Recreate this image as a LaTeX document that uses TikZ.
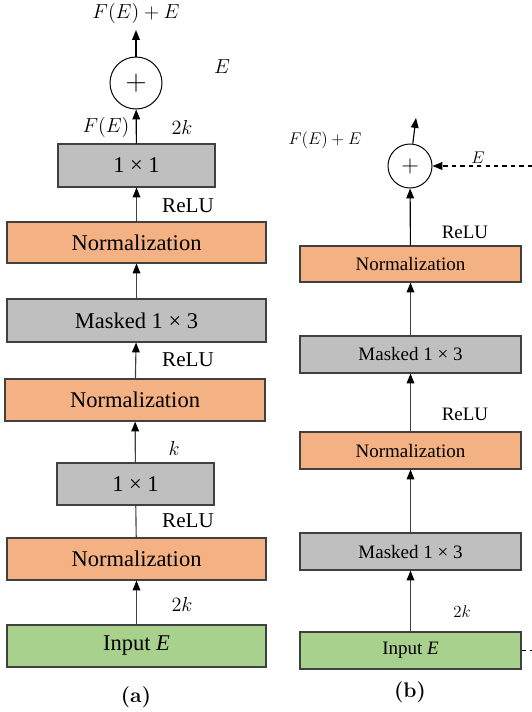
\documentclass[tikz,border=0pt]{standalone}
\usepackage{fontspec}
\newfontfamily\tnr{Liberation Serif}
\usetikzlibrary{arrows.meta}
\definecolor{convgray}{HTML}{BFBFBF}
\definecolor{normorange}{HTML}{F4B183}
\definecolor{inputgreen}{HTML}{A9D18E}
\definecolor{edgegray}{HTML}{404040}
\tikzset{
  bigtxt/.style={font=\tnr\fontsize{16}{19}\selectfont},
  smalltxt/.style={font=\tnr\fontsize{13.5}{16}\selectfont},
  blk/.style={draw=edgegray,line width=0.8pt,inner sep=0pt},
  conv/.style={fill=convgray},
  norm/.style={fill=normorange},
  inp/.style={fill=inputgreen},
  addc/.style={draw,line width=0.7pt,circle,inner sep=0pt},
  flow/.style={-{Triangle[length=7pt,width=5.5pt,black]},edgegray,line width=0.8pt},
  lbl/.style={font=\fontsize{15}{18}\selectfont},
  lblb/.style={font=\fontsize{13}{16}\selectfont}
}
\begin{document}
\begin{tikzpicture}[x=0.025cm,y=-0.025cm]
  \useasboundingbox (0,0) rectangle (532,712);

  % (a) blocks
  \node[addc,minimum size=1.3cm,font=\fontsize{22}{24}\selectfont] (adda) at (136,83) {$+$};
  \node[blk,conv,bigtxt,minimum width=3.925cm,minimum height=1.075cm] (c1a) at (136.5,165.5) {1 × 1};
  \node[blk,norm,bigtxt,minimum width=6.475cm,minimum height=1.025cm] (n1a) at (136.5,242.5) {Normalization};
  \node[blk,conv,bigtxt,minimum width=6.475cm,minimum height=1.075cm] (m1a) at (136.5,320.5) {Masked 1 × 3};
  \node[blk,norm,bigtxt,minimum width=6.5cm,minimum height=1.05cm] (n2a) at (135,400) {Normalization};
  \node[blk,conv,bigtxt,minimum width=3.925cm,minimum height=1.05cm] (c2a) at (135.5,484) {1 × 1};
  \node[blk,norm,bigtxt,minimum width=6.475cm,minimum height=1.05cm] (n3a) at (136.5,559) {Normalization};
  \node[blk,inp,bigtxt,minimum width=6.475cm,minimum height=1.05cm] (ina) at (136.5,646) {Input \textit{E}};
  \coordinate (outa) at (136,30);

  % (a) connectors
  \draw[flow] (ina) -- (n3a);
  \draw[edgegray,line width=0.8pt] (n3a) -- (c2a);
  \draw[flow] (c2a) -- (n2a);
  \draw[flow] (n2a) -- (m1a);
  \draw[flow] (m1a) -- (n1a);
  \draw[flow] (n1a) -- (c1a);
  \draw[flow,black] (c1a) -- (adda);
  \draw[flow,black] (adda) -- (outa);

  % (a) labels
  \node[lbl] (sumla) at (136,13) {$F(E)+E$};
  \node[lbl] (ela) at (222,67) {$E$};
  \node[lbl] (fla) at (106,127) {$F(E)$};
  \node[lbl] (ka1) at (182,127) {$2k$};
  \node[font=\tnr\fontsize{15}{18}\selectfont] (ra1) at (188,206) {ReLU};
  \node[font=\tnr\fontsize{15}{18}\selectfont] (ra2) at (188,360) {ReLU};
  \node[lbl] (ka2) at (174,448) {$k$};
  \node[font=\tnr\fontsize{15}{18}\selectfont] (ra3) at (188,521) {ReLU};
  \node[lbl] (ka3) at (182,604) {$2k$};
  \node[font=\bfseries\fontsize{15}{18}\selectfont] (capa) at (136,697) {(a)};

  % (b) blocks
  \node[addc,minimum size=1.1cm,font=\fontsize{18}{20}\selectfont] (addb) at (410,166) {$+$};
  \node[blk,norm,smalltxt,minimum width=5.525cm,minimum height=0.9cm] (n1b) at (410.5,264) {Normalization};
  \node[blk,conv,smalltxt,minimum width=5.525cm,minimum height=0.925cm] (m1b) at (410.5,354.5) {Masked 1 × 3};
  \node[blk,norm,smalltxt,minimum width=5.525cm,minimum height=0.925cm] (n2b) at (410.5,450.5) {Normalization};
  \node[blk,conv,smalltxt,minimum width=5.525cm,minimum height=0.925cm] (m2b) at (410.5,551.5) {Masked 1 × 3};
  \node[blk,inp,smalltxt,minimum width=5.525cm,minimum height=0.925cm] (inb) at (410.5,650.5) {Input \textit{E}};
  \coordinate (outb) at (416,118);
  \coordinate (skipin) at (532,166);
  \coordinate (skipout) at (532,650.5);

  % (b) connectors
  \draw[flow] (inb) -- (m2b);
  \draw[flow] (m2b) -- (n2b);
  \draw[flow] (n2b) -- (m1b);
  \draw[flow] (m1b) -- (n1b);
  \draw[flow,black] (n1b) -- (addb);
  \draw[flow,black] (addb) -- (outb);
  \draw[flow,dashed,black] (skipin) -- (addb.east);
  \draw[dashed,black,line width=0.8pt] (inb.east) -- (skipout);

  % (b) labels
  \node[lblb] (sumlb) at (325,140) {$F(E)+E$};
  \node[lblb] (elb) at (478,158) {$E$};
  \node[smalltxt] (rb1) at (465,232) {ReLU};
  \node[smalltxt] (rb2) at (465,414) {ReLU};
  \node[lblb] (kb) at (462,612) {$2k$};
  \node[font=\bfseries\fontsize{15}{18}\selectfont] (capb) at (410,692) {(b)};
\end{tikzpicture}
\end{document}
